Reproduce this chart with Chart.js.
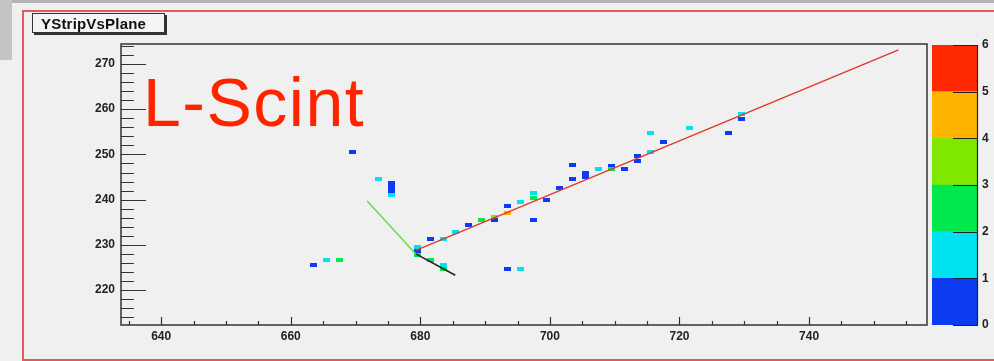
<!DOCTYPE html>
<html>
<head>
    <title>YStripVsPlane</title>
    <script src="https://cdn.jsdelivr.net/npm/chart.js"></script>
    <style>
        body { margin: 0; background: #f0f0f0; width: 994px; height: 361px; overflow: hidden; position: relative; font-family: "Liberation Sans", Arial, sans-serif; }
        #strip { position: absolute; left: 0; top: 0; width: 12px; height: 60px; background: #c4c4c4; }
        #topline { position: absolute; left: 12px; top: 0; width: 982px; height: 3px; background: #b4b4b4; }
        #frame { position: absolute; left: 22px; top: 10px; width: 1000px; height: 347px; border: 2px solid #e25a5a; }
        #title { position: absolute; left: 32px; top: 13px; width: 133px; height: 20px; background: #f4f4f4; border: 1px solid #333; box-shadow: 2px 2px 0 #333; font-weight: bold; font-size: 15px; line-height: 19px; padding-left: 8px; box-sizing: border-box; color: #111; letter-spacing: 0.2px; }
        #tag { position: absolute; left: 143px; top: 63px; font-size: 68px; color: #ff2400; letter-spacing: 1.5px; }
        #main { position: absolute; left: 0; top: 0; }
        #palette { position: absolute; left: 925px; top: 0; }
    </style>
</head>
<body>
    <div id="strip"></div>
    <div id="topline"></div>
    <div id="frame"></div>
    <canvas id="main" width="994" height="361"></canvas>
    <canvas id="palette" width="69" height="361"></canvas>
    <div id="title">YStripVsPlane</div>
    <div id="tag">L-Scint</div>

    <script>
        // hits: plane (x), y strip (y), entries
        const hitX = [663.5, 665.5, 667.5, 669.5, 673.5, 675.5, 675.5, 675.5, 675.5,
                      679.5, 679.5, 679.5, 681.5, 681.5, 683.5, 683.5, 683.5, 685.5,
                      687.5, 689.5, 691.5, 691.5, 693.5, 693.5, 695.5, 697.5, 697.5, 697.5,
                      693.5, 695.5, 699.5, 701.5, 703.5, 703.5, 705.5, 705.5, 707.5,
                      709.5, 709.5, 711.5, 713.5, 713.5, 715.5, 715.5, 717.5, 721.5,
                      727.5, 729.5, 729.5];
        const hitY = [225.5, 226.6, 226.6, 250.5, 244.6, 243.6, 242.7, 241.9, 241.0,
                      229.6, 228.6, 227.7, 231.4, 226.6, 231.4, 225.5, 224.7, 232.8,
                      234.5, 235.6, 236.2, 235.5, 238.6, 237.0, 239.5, 241.4, 240.4, 235.6,
                      224.6, 224.6, 240.0, 242.6, 247.7, 244.6, 245.9, 245.0, 246.7,
                      247.5, 246.7, 246.8, 249.7, 248.6, 254.8, 250.6, 252.7, 255.9,
                      254.8, 258.9, 257.9];
        const hitCount = [1, 2, 3, 1, 2, 1, 1, 1, 2,
                          2, 1, 3, 1, 3, 2, 2, 3, 2,
                          1, 3, 4, 1, 1, 5, 2, 2, 3, 1,
                          1, 2, 1, 1, 1, 1, 1, 1, 2,
                          1, 3, 1, 1, 1, 2, 2, 1, 2,
                          1, 2, 1];

        // track segments
        const fitX = [679.3, 753.8];
        const fitY = [228.8, 273.1];
        const upX = [671.8, 679.3];
        const upY = [239.7, 228.0];
        const downX = [679.3, 685.4];
        const downY = [228.0, 223.3];

        const xTickLabels = [640, 660, 680, 700, 720, 740];
        const yTickLabels = [220, 230, 240, 250, 260, 270];
        const zTickLabels = [0, 1, 2, 3, 4, 5, 6];
        const zColors = ['#0c3cf2', '#00e2f2', '#00e84c', '#80e800', '#ffb400', '#ff2800'];

        const tickFont = { family: 'Liberation Sans', size: 12, weight: 'bold' };

        // small filled rectangles for the histogram bins
        const binImages = zColors.map(c => {
            const cv = document.createElement('canvas');
            cv.width = 7; cv.height = 4;
            const g = cv.getContext('2d');
            g.fillStyle = c;
            g.fillRect(0, 0, 7, 4);
            return cv;
        });

        const zip = (xs, ys) => xs.map((x, i) => ({ x: x, y: ys[i] }));

        // ROOT style frame with inward tick marks
        const frameTicks = {
            id: 'frameTicks',
            afterDraw(chart) {
                const { ctx, chartArea: a, scales: { x, y } } = chart;
                ctx.save();
                ctx.strokeStyle = '#333';
                ctx.lineWidth = 1.5;
                ctx.strokeRect(a.left, a.top, a.right - a.left, a.bottom - a.top);
                ctx.lineWidth = 1.2;
                ctx.beginPath();
                for (let v = Math.ceil(y.min / 2) * 2; v <= y.max; v += 2) {
                    const py = Math.round(y.getPixelForValue(v)) + 0.5;
                    const len = v % 10 === 0 ? 25 : 13;
                    ctx.moveTo(a.left, py);
                    ctx.lineTo(a.left + len, py);
                }
                for (let v = Math.ceil(x.min / 5) * 5; v <= x.max; v += 5) {
                    const px = Math.round(x.getPixelForValue(v)) + 0.5;
                    const len = v % 20 === 0 ? 8 : 4;
                    ctx.moveTo(px, a.bottom);
                    ctx.lineTo(px, a.bottom - len);
                }
                ctx.stroke();
                ctx.restore();
            }
        };

        new Chart(document.getElementById('main').getContext('2d'), {
            type: 'scatter',
            data: {
                datasets: [
                    { data: zip(fitX, fitY), showLine: true, borderColor: '#e23a2a', borderWidth: 1.5, pointRadius: 0, order: 0 },
                    { data: zip(upX, upY), showLine: true, borderColor: '#6ad84a', borderWidth: 1.5, pointRadius: 0, order: 0 },
                    { data: zip(downX, downY), showLine: true, borderColor: '#222', borderWidth: 1.5, pointRadius: 0, order: 0 },
                    {
                        data: zip(hitX, hitY),
                        pointStyle: c => binImages[Math.min(hitCount[c.dataIndex], 6) - 1],
                        pointRadius: 4,
                        order: 1
                    }
                ]
            },
            options: {
                responsive: false,
                animation: false,
                layout: { padding: { left: 0, top: 44, right: 67, bottom: 16 } },
                plugins: { legend: { display: false }, tooltip: { enabled: false } },
                scales: {
                    x: {
                        type: 'linear', min: 633.8, max: 758.2,
                        afterFit: s => { s.height = 20; },
                        afterBuildTicks: s => { s.ticks = xTickLabels.map(v => ({ value: v })); },
                        grid: { display: false, drawTicks: false },
                        border: { display: false },
                        ticks: { font: tickFont, color: '#222', padding: 4, maxRotation: 0 }
                    },
                    y: {
                        type: 'linear', min: 212.3, max: 274.4,
                        afterFit: s => { s.width = 121; },
                        afterBuildTicks: s => { s.ticks = yTickLabels.map(v => ({ value: v })); },
                        grid: { display: false, drawTicks: false },
                        border: { display: false },
                        ticks: { font: tickFont, color: '#222', padding: 6 }
                    }
                }
            },
            plugins: [frameTicks]
        });

        // colour scale on the right
        const paletteTicks = {
            id: 'paletteTicks',
            afterDraw(chart) {
                const { ctx, chartArea: a, scales: { y } } = chart;
                ctx.save();
                ctx.strokeStyle = '#222';
                ctx.lineWidth = 1.2;
                ctx.beginPath();
                zTickLabels.forEach(v => {
                    const py = Math.round(y.getPixelForValue(v)) + 0.5;
                    ctx.moveTo(a.right - 25, py);
                    ctx.lineTo(a.right, py);
                });
                ctx.moveTo(a.right - 0.5, a.top);
                ctx.lineTo(a.right - 0.5, a.bottom);
                ctx.stroke();
                ctx.restore();
            }
        };

        new Chart(document.getElementById('palette').getContext('2d'), {
            type: 'bar',
            data: {
                labels: [''],
                datasets: zColors.map(c => ({ data: [1], backgroundColor: c, barPercentage: 1, categoryPercentage: 1 }))
            },
            options: {
                responsive: false,
                animation: false,
                layout: { padding: { left: 7, top: 45, right: 0, bottom: 36 } },
                plugins: { legend: { display: false }, tooltip: { enabled: false } },
                scales: {
                    x: { stacked: true, display: false },
                    y: {
                        stacked: true, position: 'right', min: 0, max: 6,
                        afterFit: s => { s.width = 16; },
                        afterBuildTicks: s => { s.ticks = zTickLabels.map(v => ({ value: v })); },
                        grid: { display: false, drawTicks: false },
                        border: { display: false },
                        ticks: { font: tickFont, color: '#222', padding: 4 }
                    }
                }
            },
            plugins: [paletteTicks]
        });
    </script>
</body>
</html>
